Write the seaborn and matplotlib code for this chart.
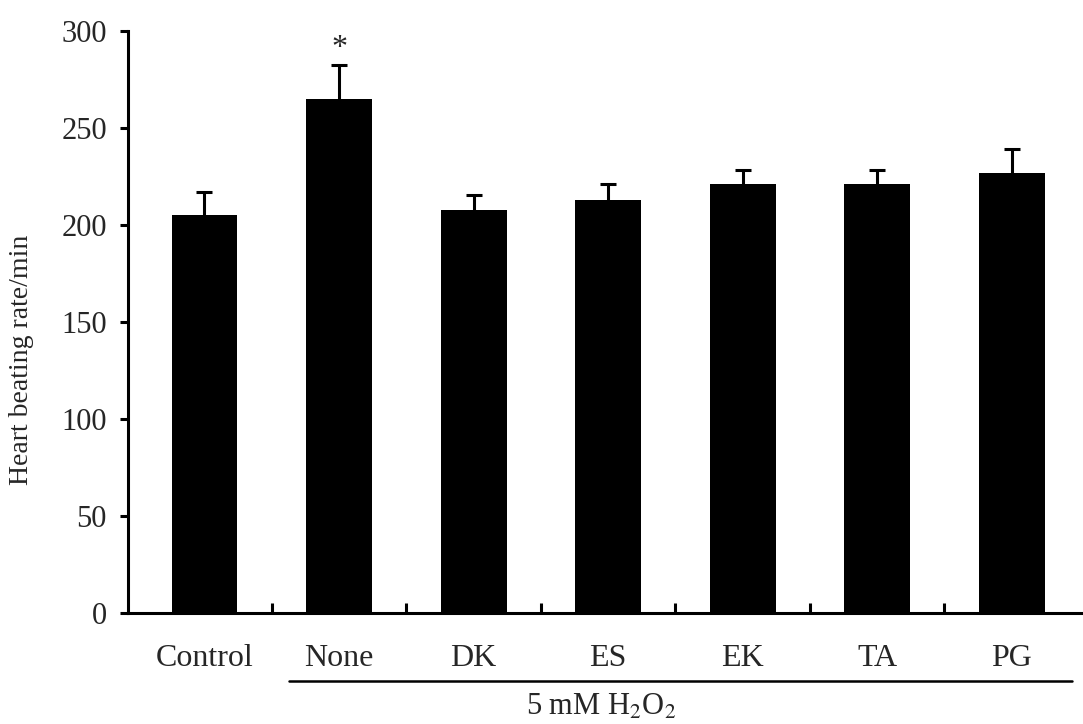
import matplotlib
matplotlib.use("Agg")
import matplotlib.pyplot as plt
import seaborn as sns
import pandas as pd
import numpy as np

categories = ["Control", "None", "DK", "ES", "EK", "TA", "PG"]
means = [205, 265, 208, 213, 221, 221, 227]
errors = [12, 17.5, 7.5, 8, 7.5, 7.5, 12.5]
y_ticks = [0, 50, 100, 150, 200, 250, 300]

sns.set_theme(style="white")
plt.rcParams["font.family"] = ["Liberation Serif", "DejaVu Serif"]
plt.rcParams["mathtext.fontset"] = "stix"

df = pd.DataFrame({"group": categories, "rate": means})

fig = plt.figure(figsize=(10.83, 7.24), dpi=100)
ax = fig.add_axes([0.118, 0.153, 0.882, 0.804])

sns.barplot(data=df, x="group", y="rate", color="black", width=0.49,
            saturation=1, errorbar=None, ax=ax)
for p in ax.patches:
    p.set_edgecolor("black")
    p.set_linewidth(0)

xs = np.arange(len(categories))
eb = ax.errorbar(xs, means, yerr=[np.zeros(len(errors)), errors], fmt="none",
                 ecolor="black", elinewidth=2.2, capsize=5.5, capthick=2.2,
                 zorder=3)
# hide the lower caps (only upper error shown)
eb[1][0].set_visible(False)

ax.set_ylim(0, 300)
ax.set_xlim(-0.57, 6.53)
ax.set_yticks(y_ticks)
ax.set_yticklabels([str(v) for v in y_ticks], fontsize=22)
ax.set_xticks(xs)
ax.set_xticklabels(categories, fontsize=23)
ax.tick_params(axis="x", length=0, pad=22)
ax.tick_params(axis="y", direction="out", length=6, width=2.2, left=True,
               pad=9, color="black")
ax.set_xlabel("")
ax.set_ylabel("Heart beating rate/min", fontsize=20)
ax.yaxis.set_label_coords(-0.098, 0.435)

for s in ["top", "right"]:
    ax.spines[s].set_visible(False)
for s in ["left", "bottom"]:
    ax.spines[s].set_linewidth(2.2)
    ax.spines[s].set_color("black")

# minor boundary ticks between categories, pointing upward
ax.set_xticks(xs[:-1] + 0.5, minor=True)
ax.tick_params(axis="x", which="minor", direction="in", length=7, width=2.2,
               bottom=True, color="black")

# significance marker
ax.text(1, means[1] + errors[1] + 1, "*", ha="center", va="bottom", fontsize=23)

# bracket for treatment group
line_y = -0.117
ax.plot([0.63, 6.45], [line_y, line_y], transform=ax.get_xaxis_transform(),
        color="black", lw=1.8, clip_on=False)
ax.text(2.95, -0.137, r"5 mM H$_2$O$_2$", transform=ax.get_xaxis_transform(),
        ha="center", va="top", fontsize=22)

fig.savefig("out.png", dpi=100)
